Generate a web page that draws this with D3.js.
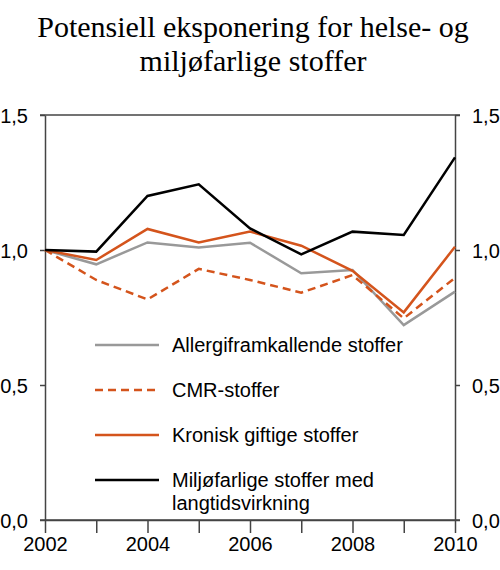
<!DOCTYPE html>
<html><head><meta charset="utf-8">
<script src="https://cdn.jsdelivr.net/npm/d3@7/dist/d3.min.js"></script>
<style>body{margin:0;background:#fff}</style>
</head><body>
<svg id="c" width="500" height="570"></svg>
<script>
const years = [2002,2003,2004,2005,2006,2007,2008,2009,2010];
const allergi = [1.0,0.947,1.028,1.009,1.027,0.914,0.926,0.722,0.846];
const cmr = [1.0,0.889,0.817,0.930,0.889,0.842,0.907,0.747,0.897];
const kronisk = [1.0,0.963,1.078,1.028,1.068,1.016,0.923,0.769,1.012];
const miljo = [1.0,0.994,1.200,1.243,1.080,0.984,1.068,1.056,1.343];
const yTicks = [0,0.5,1.0,1.5];
const xTickLabels = [2002,2004,2006,2008,2010];
const titleLines = ["Potensiell eksponering for helse- og","miljøfarlige stoffer"];
const seriesNames = ["Allergiframkallende stoffer","CMR-stoffer","Kronisk giftige stoffer",["Miljøfarlige stoffer med","langtidsvirkning"]];

const ORANGE = "#d4541c", GRAY = "#999999", BLACK = "#000000";
const series = [
  {name: seriesNames[0], values: allergi, color: GRAY, dash: null},
  {name: seriesNames[1], values: cmr, color: ORANGE, dash: "8,5"},
  {name: seriesNames[2], values: kronisk, color: ORANGE, dash: null},
  {name: seriesNames[3], values: miljo, color: BLACK, dash: null}
];

const svg = d3.select("#c");
const L = 45, R = 455, T = 115, B = 520;
const x = d3.scaleLinear().domain([2002,2010]).range([L,R]);
const y = d3.scaleLinear().domain([0,1.5]).range([B,T]);
const fmt = d => d3.format(".1f")(d).replace(".", ",");
const axisColor = "#444";
const font = "'Liberation Sans', Arial, sans-serif";

// title
svg.append("g").selectAll("text").data(titleLines).join("text")
  .attr("x", 253).attr("y", (d,i) => 37 + i*34)
  .attr("text-anchor","middle")
  .attr("font-family","'Liberation Serif','Times New Roman',serif")
  .attr("font-size", 30).attr("fill","#000").text(d=>d);

// side axes
const gl = svg.append("g").attr("transform",`translate(${L},0)`)
  .call(d3.axisLeft(y).tickValues(yTicks).tickSize(5).tickSizeOuter(0).tickFormat(fmt));
const gr = svg.append("g").attr("transform",`translate(${R},0)`)
  .call(d3.axisRight(y).tickValues(yTicks).tickSize(5).tickSizeOuter(0).tickFormat(fmt));
[gl,gr].forEach(g=>{
  g.select(".domain").attr("stroke",axisColor).attr("stroke-width",1.5);
  g.selectAll(".tick line").attr("stroke",axisColor).attr("stroke-width",1.5);
  g.selectAll(".tick text").attr("font-family",font).attr("font-size",20).attr("fill","#000").attr("dy","0.36em");
});
gl.selectAll(".tick text").attr("x",-17);
gr.selectAll(".tick text").attr("x",17);

// bottom axis
const gb = svg.append("g").attr("transform",`translate(0,${B})`)
  .call(d3.axisBottom(x).tickValues(years).tickSize(13).tickSizeOuter(0)
    .tickFormat(d => xTickLabels.includes(d) ? String(d) : ""));
gb.select(".domain").attr("stroke",axisColor).attr("stroke-width",1.5);
gb.selectAll(".tick line").attr("stroke",axisColor).attr("stroke-width",1.5);
gb.selectAll(".tick text").attr("font-family",font).attr("font-size",20).attr("fill","#000")
  .attr("y",31).attr("dy","0");
// top and bottom frame lines extended past axes
[y(0), y(1.5)].forEach(v=>{
  svg.append("line").attr("x1",L-5).attr("x2",R+5).attr("y1",v).attr("y2",v)
    .attr("stroke",axisColor).attr("stroke-width",1.5);
});

// lines
const line = d3.line().x((d,i)=>x(years[i])).y(d=>y(d));
svg.append("g").selectAll("path").data(series).join("path")
  .attr("d", d=>line(d.values))
  .attr("fill","none").attr("stroke",d=>d.color).attr("stroke-width",2.5)
  .attr("stroke-dasharray",d=>d.dash).attr("stroke-linejoin","miter");

// legend
const lg = svg.append("g");
series.forEach((s,i)=>{
  const ly = 345 + i*45;
  lg.append("line").attr("x1",95).attr("x2",159).attr("y1",ly).attr("y2",ly)
    .attr("stroke",s.color).attr("stroke-width",2.5).attr("stroke-dasharray",s.dash);
  const lines = Array.isArray(s.name) ? s.name : [s.name];
  lines.forEach((t,j)=>{
    lg.append("text").attr("x",172).attr("y",ly+7+j*23)
      .attr("font-family",font).attr("font-size",20).attr("fill","#000").text(t);
  });
});
</script>
</body></html>
